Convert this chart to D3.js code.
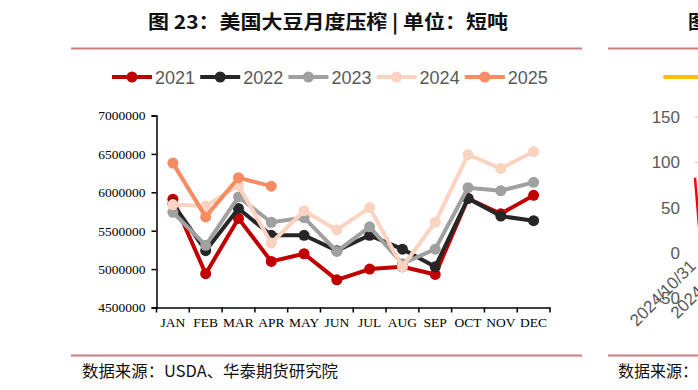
<!DOCTYPE html>
<html>
<head>
<meta charset="utf-8">
<script src="https://cdn.jsdelivr.net/npm/d3@7"></script>
<style>
  body { margin: 0; background: #fff; }
  svg { display: block; }
</style>
</head>
<body>
<div id="chart"></div>
<script>
var months = ['JAN','FEB','MAR','APR','MAY','JUN','JUL','AUG','SEP','OCT','NOV','DEC'];
var years = ['2021','2022','2023','2024','2025'];
var colors = ['#C00000','#262626','#A0A0A0','#FBD3C1','#F78B64'];
var yTicks = [4500000,5000000,5500000,6000000,6500000,7000000];

var s2021 = [5910000,4940000,5660000,5100000,5200000,4860000,5000000,5030000,4930000,5920000,5720000,5960000];
var s2022 = [5850000,5240000,5790000,5440000,5440000,5240000,5440000,5260000,5030000,5920000,5690000,5630000];
var s2023 = [5740000,5310000,5940000,5610000,5670000,5230000,5550000,5070000,5260000,6060000,6020000,6130000];
var s2024 = [5840000,5820000,6090000,5340000,5760000,5510000,5800000,5030000,5610000,6490000,6310000,6530000];
var s2025 = [6380000,5680000,6190000,6080000];
var allSeries = [s2021, s2022, s2023, s2024, s2025];

// neighbouring chart, only its left edge shows
var sideTicks = [150, 100, 50, 0, -50];
var sideDates = ['2024/10/31', '2024/11/1'];
var sideRed = [83, 30];

var width = 698, height = 390;
var svg = d3.select('#chart').append('svg')
    .attr('width', width)
    .attr('height', height);

var cjk = '"Noto Sans CJK SC", sans-serif';

// title + rules
svg.append('text')
    .attr('x', 148).attr('y', 29)
    .attr('textLength', 360)
    .attr('lengthAdjust', 'spacingAndGlyphs')
    .style('font-family', cjk)
    .style('font-size', '19px')
    .style('font-weight', 'bold')
    .attr('fill', '#111')
    .text('图 23：美国大豆月度压榨 | 单位：短吨');

[[71, 582], [608, 698]].forEach(function(r) {
    svg.append('line').attr('x1', r[0]).attr('x2', r[1]).attr('y1', 48.5).attr('y2', 48.5)
        .attr('stroke', '#CC7C7C').attr('stroke-width', 2);
    svg.append('line').attr('x1', r[0]).attr('x2', r[1]).attr('y1', 355.5).attr('y2', 355.5)
        .attr('stroke', '#CC7C7C').attr('stroke-width', 2);
});

svg.append('text')
    .attr('x', 82).attr('y', 377)
    .attr('textLength', 256)
    .attr('lengthAdjust', 'spacingAndGlyphs')
    .style('font-family', cjk)
    .style('font-size', '16px')
    .attr('fill', '#111')
    .text('数据来源：USDA、华泰期货研究院');

// plot area
var left = 156.5, right = 550, plotTop = 115.5, bottom = 307.5;

var x = d3.scaleBand().domain(months).range([left, right]);
var y = d3.scaleLinear().domain([4500000, 7000000]).range([bottom, plotTop]);

var xAxis = d3.axisBottom(x).tickSize(0).tickPadding(10);
var yAxis = d3.axisLeft(y).tickValues(yTicks).tickSize(5).tickFormat(d3.format('d'));

var gx = svg.append('g')
    .attr('transform', 'translate(0,' + bottom + ')')
    .call(xAxis);
// ticks at the band edges
d3.range(months.length + 1).forEach(function(i) {
    var xp = left + i * x.step();
    gx.append('line').attr('x1', xp).attr('x2', xp).attr('y1', 0).attr('y2', 5)
        .attr('stroke', '#000').attr('stroke-width', 1.5);
});

var gy = svg.append('g')
    .attr('transform', 'translate(' + left + ',0)')
    .call(yAxis);
gy.selectAll('.tick text').attr('x', -11);

[gx, gy].forEach(function(g) {
    g.select('.domain').attr('stroke', '#000').attr('stroke-width', 1.5);
    g.selectAll('.tick line').attr('stroke', '#000').attr('stroke-width', 1.5);
    g.selectAll('.tick text')
        .style('font-family', '"Liberation Serif", "Times New Roman", serif')
        .style('font-size', '13.5px')
        .attr('fill', '#000');
});

var line = d3.line()
    .x((d, i) => x(months[i]) + x.bandwidth() / 2)
    .y(d => y(d));

allSeries.forEach(function(s, k) {
    svg.append('path')
        .datum(s)
        .attr('d', line)
        .attr('fill', 'none')
        .attr('stroke', colors[k])
        .attr('stroke-width', 4)
        .attr('stroke-linejoin', 'round');
    svg.selectAll('.dot' + k)
        .data(s)
        .enter()
        .append('circle')
        .attr('cx', (d, i) => x(months[i]) + x.bandwidth() / 2)
        .attr('cy', d => y(d))
        .attr('r', 5.5)
        .attr('fill', colors[k]);
});

// legend
var legend = svg.append('g').attr('transform', 'translate(112,77)');
years.forEach(function(yr, k) {
    var g = legend.append('g').attr('transform', 'translate(' + (k * 88.2) + ',0)');
    g.append('line').attr('x1', 0).attr('x2', 40).attr('y1', 0).attr('y2', 0)
        .attr('stroke', colors[k]).attr('stroke-width', 4);
    g.append('circle').attr('cx', 20).attr('cy', 0).attr('r', 5.5).attr('fill', colors[k]);
    g.append('text')
        .attr('x', 43).attr('y', 6.5)
        .style('font-family', 'Arial, "Liberation Sans", sans-serif')
        .style('font-size', '18px')
        .attr('fill', '#595959')
        .text(yr);
});

// edge of the next chart
svg.append('text')
    .attr('x', 688).attr('y', 29)
    .style('font-family', cjk)
    .style('font-size', '19px')
    .style('font-weight', 'bold')
    .attr('fill', '#111')
    .text('图');
svg.append('text')
    .attr('x', 618).attr('y', 377)
    .style('font-family', cjk)
    .style('font-size', '16px')
    .attr('fill', '#111')
    .text('数据来源：');
svg.append('line').attr('x1', 665).attr('x2', 700).attr('y1', 77).attr('y2', 77)
    .attr('stroke', '#FFC000').attr('stroke-width', 4).attr('stroke-linecap', 'round');

var ySide = d3.scaleLinear().domain([0, 150]).range([253, 117]);
svg.selectAll('.sidetick')
    .data(sideTicks)
    .enter()
    .append('text')
    .attr('x', 680)
    .attr('y', d => ySide(d) + 6)
    .attr('text-anchor', 'end')
    .style('font-family', 'Arial, "Liberation Sans", sans-serif')
    .style('font-size', '17px')
    .attr('fill', '#595959')
    .text(d => d);
svg.selectAll('.sidegrid')
    .data(sideTicks.slice(0, 2))
    .enter()
    .append('line')
    .attr('x1', 695).attr('x2', 698)
    .attr('y1', d => ySide(d)).attr('y2', d => ySide(d))
    .attr('stroke', '#BFBFBF');
svg.append('line')
    .attr('x1', 695).attr('x2', 699)
    .attr('y1', ySide(sideRed[0])).attr('y2', ySide(sideRed[1]))
    .attr('stroke', '#FF0000').attr('stroke-width', 2.5);
svg.selectAll('.sidedate')
    .data(sideDates)
    .enter()
    .append('text')
    .attr('text-anchor', 'end')
    .attr('transform', (d, i) => 'translate(' + (697 + i * 33) + ',267) rotate(-45)')
    .style('font-family', 'Arial, "Liberation Sans", sans-serif')
    .style('font-size', '17px')
    .attr('fill', '#595959')
    .text(d => d);
</script>
</body>
</html>
